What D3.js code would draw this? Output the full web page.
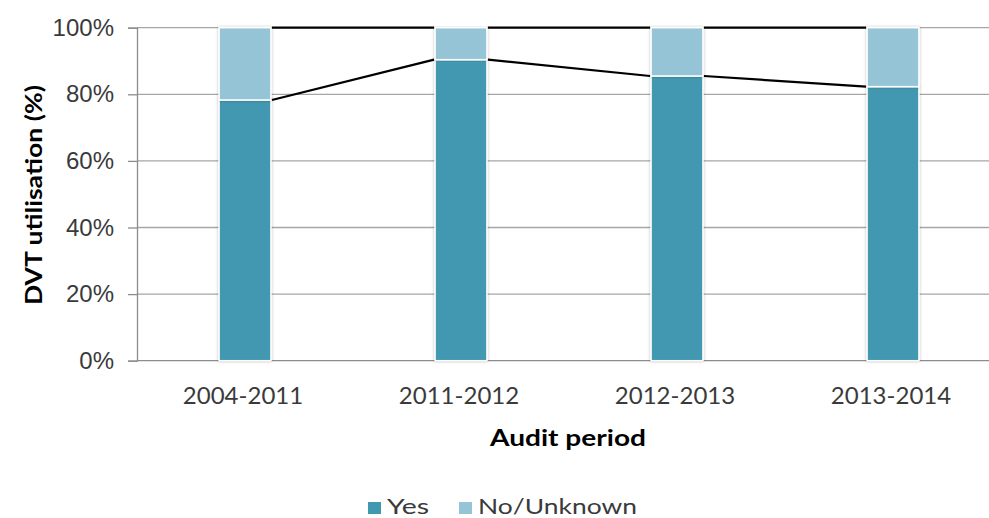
<!DOCTYPE html>
<html>
<head>
<meta charset="utf-8">
<script src="https://cdn.jsdelivr.net/npm/d3@7/dist/d3.min.js"></script>
<style>
  html, body { margin: 0; padding: 0; background: #fff; }
  svg { display: block; font-family: Lato, "Noto Sans", sans-serif; }
</style>
</head>
<body>
<svg id="chart" width="989" height="518"></svg>
<script>
// DVT utilisation by audit period (stacked percentages)
const categories = ["2004-2011", "2011-2012", "2012-2013", "2013-2014"];
const yesValues = [78.3, 90.4, 85.5, 82.3];
const noUnknownValues = [21.7, 9.6, 14.5, 17.7];
const yTicks = [0, 20, 40, 60, 80, 100];
const seriesNames = ["Yes", "No/Unknown"];
const seriesColors = ["#4298b0", "#94c4d5"];

const svg = d3.select("#chart");
const W = 989, H = 518;
const plot = { left: 137, right: 1001, top: 27.7, bottom: 360.7 };

const rows = categories.map((c, i) => ({ period: c, Yes: yesValues[i], "No/Unknown": noUnknownValues[i] }));
const stacked = d3.stack().keys(seriesNames)(rows);

const x = d3.scaleBand().domain(categories).range([plot.left, plot.right]).padding(0);
const y = d3.scaleLinear().domain([0, 100]).range([plot.bottom, plot.top]);
const barW = x.bandwidth() * 0.24;
const barX = c => x(c) + x.bandwidth() / 2 - barW / 2;

// soft shadow behind columns
const defs = svg.append("defs");
const f = defs.append("filter").attr("id", "shadow")
  .attr("x", "-20%").attr("y", "-5%").attr("width", "140%").attr("height", "110%");
f.append("feDropShadow").attr("dx", 0).attr("dy", 0).attr("stdDeviation", 1.8)
  .attr("flood-color", "#000").attr("flood-opacity", 0.28);

// horizontal gridlines
svg.append("g").selectAll("line").data(yTicks.filter(t => t > 0)).join("line")
  .attr("x1", plot.left).attr("x2", W)
  .attr("y1", d => y(d)).attr("y2", d => y(d))
  .attr("stroke", "#a6a6a6").attr("stroke-width", 1.3);

// y axis
const yAxis = svg.append("g").attr("transform", `translate(${plot.left},0)`)
  .call(d3.axisLeft(y).tickValues(yTicks).tickFormat(d => d + "%").tickSize(9).tickPadding(14));
yAxis.select(".domain").attr("stroke", "#8c8c8c").attr("stroke-width", 1.3);
yAxis.selectAll(".tick line").attr("stroke", "#8c8c8c").attr("stroke-width", 1.3);
yAxis.selectAll(".tick text").attr("fill", "#3a3a3a").style("font-size", "24px");

// x axis baseline
svg.append("line").attr("x1", plot.left).attr("x2", W)
  .attr("y1", y(0)).attr("y2", y(0))
  .attr("stroke", "#8c8c8c").attr("stroke-width", 1.3);

// stacked columns
const layers = svg.append("g").selectAll("g").data(stacked).join("g")
  .attr("fill", (d, i) => seriesColors[i]);
layers.selectAll("rect").data(d => d).join("rect")
  .attr("x", d => barX(d.data.period))
  .attr("width", barW)
  .attr("y", d => y(d[1]))
  .attr("height", d => y(d[0]) - y(d[1]))
  .attr("stroke", "#fff").attr("stroke-width", 1.5)
  .attr("filter", "url(#shadow)");

// series lines joining segment tops between neighbouring columns
const lineG = svg.append("g");
stacked.forEach(layer => {
  for (let i = 0; i < layer.length - 1; i++) {
    const a = layer[i], b = layer[i + 1];
    lineG.append("line")
      .attr("x1", barX(a.data.period) + barW + 1).attr("y1", y(a[1]))
      .attr("x2", barX(b.data.period) - 1).attr("y2", y(b[1]))
      .attr("stroke", "#000").attr("stroke-width", 2.2);
  }
});

// x tick labels
svg.append("g").selectAll("text").data(categories).join("text")
  .attr("x", d => x(d) + x.bandwidth() / 2 - 2)
  .attr("y", 404)
  .attr("text-anchor", "middle")
  .attr("fill", "#3a3a3a")
  .style("font-size", "24px")
  .text(d => d);

// axis titles
svg.append("text")
  .attr("x", 568).attr("y", 446)
  .attr("text-anchor", "middle")
  .attr("textLength", 156).attr("lengthAdjust", "spacingAndGlyphs")
  .style("font-size", "23px").style("font-weight", "bold")
  .attr("fill", "#000")
  .text("Audit period");

svg.append("text")
  .attr("transform", "translate(42,195) rotate(-90)")
  .attr("text-anchor", "middle")
  .attr("textLength", 220).attr("lengthAdjust", "spacingAndGlyphs")
  .style("font-size", "22px").style("font-weight", "bold")
  .attr("fill", "#000")
  .text("DVT utilisation (%)");

// legend
const legendItems = [
  { name: seriesNames[0], color: seriesColors[0], x: 368, len: 42 },
  { name: seriesNames[1], color: seriesColors[1], x: 459, len: 159 }
];
const lg = svg.append("g").selectAll("g").data(legendItems).join("g")
  .attr("transform", d => `translate(${d.x},0)`);
lg.append("rect").attr("x", 0).attr("y", 502).attr("width", 13).attr("height", 12)
  .attr("fill", d => d.color);
lg.append("text").attr("x", 19).attr("y", 514)
  .attr("textLength", d => d.len).attr("lengthAdjust", "spacingAndGlyphs")
  .attr("fill", "#3a3a3a").style("font-size", "22px")
  .text(d => d.name);
</script>
</body>
</html>
